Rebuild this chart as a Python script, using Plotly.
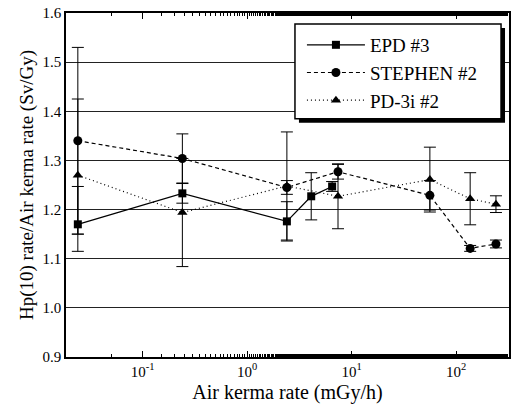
import plotly.graph_objects as go

# EPD #3
epd_x = [0.024, 0.24, 2.4, 4.1, 6.5]
epd_y = [1.170, 1.233, 1.176, 1.227, 1.247]
epd_eplus = [0.077, 0.02, 0.04, 0.048, 0.01]
epd_eminus = [0.02, 0.02, 0.04, 0.048, 0.01]

# STEPHEN #2
st_x = [0.024, 0.24, 2.4, 7.4, 56, 136, 240]
st_y = [1.340, 1.304, 1.245, 1.277, 1.229, 1.121, 1.130]
st_err = [0.19, 0.05, 0.014, 0.015, 0.03, 0.006, 0.008]

# PD-3i #2
pd_x = [0.024, 0.24, 2.4, 7.4, 56, 136, 240]
pd_y = [1.270, 1.194, 1.248, 1.227, 1.261, 1.222, 1.211]
pd_err = [0.155, 0.11, 0.11, 0.066, 0.066, 0.053, 0.017]

y_ticks = [0.9, 1.0, 1.1, 1.2, 1.3, 1.4, 1.5, 1.6]
x_tickvals = [0.1, 1, 10, 100]
x_ticktext = ["10<sup>-1</sup>", "10<sup>0</sup>", "10<sup>1</sup>", "10<sup>2</sup>"]

font = "Liberation Serif"

L, R, T, B = 66, 511, 12, 357
W, H = R - L, B - T


def px(x):
    return (x - L) / W


def py(y):
    return 1 - (y - T) / H


fig = go.Figure()
fig.add_trace(go.Scatter(
    x=epd_x, y=epd_y, name="EPD #3", mode="lines+markers",
    line=dict(color="black", width=1.3, dash="solid"),
    marker=dict(symbol="square", size=8, color="black"),
    error_y=dict(type="data", symmetric=False, array=epd_eplus, arrayminus=epd_eminus,
                 color="black", thickness=1, width=6)))
fig.add_trace(go.Scatter(
    x=st_x, y=st_y, name="STEPHEN #2", mode="lines+markers",
    line=dict(color="black", width=1.2, dash="4px,3px"),
    marker=dict(symbol="circle", size=9, color="black"),
    error_y=dict(type="data", array=st_err, color="black", thickness=1, width=6)))
fig.add_trace(go.Scatter(
    x=pd_x, y=pd_y, name="PD-3i #2", mode="lines+markers",
    line=dict(color="black", width=1.2, dash="1px,3px"),
    marker=dict(symbol="triangle-up", size=9, color="black"),
    error_y=dict(type="data", array=pd_err, color="black", thickness=1, width=6)))

# legend shadow and box
fig.add_shape(type="rect", xref="paper", yref="paper",
              x0=px(300), x1=px(507), y0=py(122), y1=py(27),
              fillcolor="black", line=dict(width=0), layer="above")
fig.add_shape(type="rect", xref="paper", yref="paper",
              x0=px(296), x1=px(503), y0=py(118), y1=py(23),
              fillcolor="white", line=dict(color="black", width=1.5), layer="above")

fig.update_layout(
    width=516, height=409,
    margin=dict(l=L, r=516 - R, t=T, b=409 - B),
    paper_bgcolor="white", plot_bgcolor="white",
    font=dict(family=font, color="black", size=13),
    showlegend=True,
    legend=dict(x=px(303), y=py(25), xanchor="left", yanchor="top",
                bgcolor="rgba(0,0,0,0)", borderwidth=0,
                font=dict(family=font, size=19, color="black"),
                itemwidth=58, tracegroupgap=0),
    xaxis=dict(type="log", range=[-1.733, 2.505],
               tickvals=x_tickvals, ticktext=x_ticktext,
               ticks="inside", ticklen=6, tickcolor="black",
               showgrid=False, showline=True, linecolor="black", linewidth=1.5,
               mirror="ticks", zeroline=False,
               minor=dict(ticks="inside", ticklen=3, tickcolor="black", showgrid=False),
               title=dict(text="Air kerma rate (mGy/h)", font=dict(family=font, size=20), standoff=6),
               tickfont=dict(family=font, size=15)),
    yaxis=dict(range=[0.9, 1.6], tickvals=y_ticks,
               ticktext=[f"{v:.1f}" for v in y_ticks],
               ticks="", showgrid=True, gridcolor="#222", gridwidth=1.2,
               showline=True, linecolor="black", linewidth=1.5, mirror=True, zeroline=False,
               title=dict(text="Hp(10) rate/Air kerma rate (Sv/Gy)", font=dict(family=font, size=19), standoff=4),
               tickfont=dict(family=font, size=15)),
)

fig.write_html("out.html")
